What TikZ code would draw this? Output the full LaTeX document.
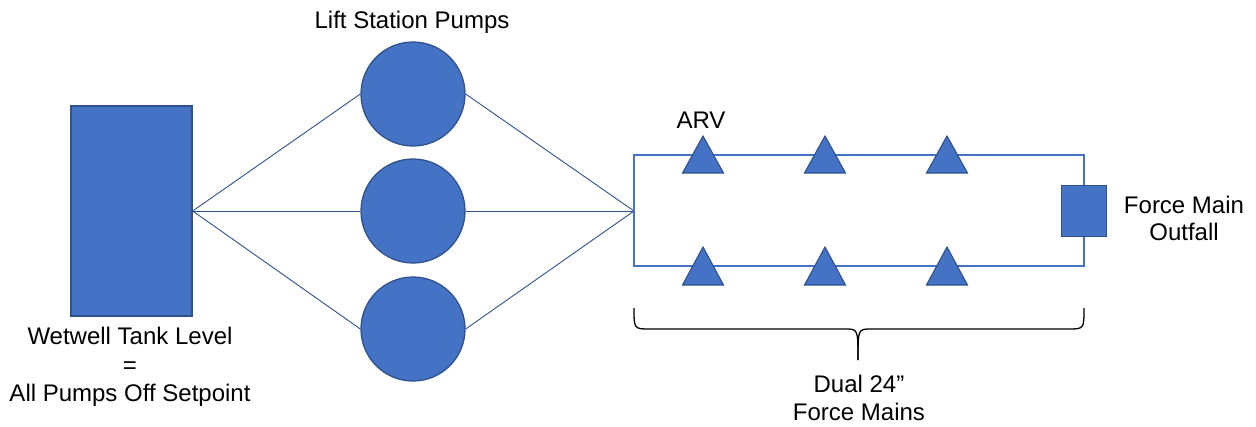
\documentclass[tikz,border=0pt]{standalone}
\usepackage{fontspec}
\setmainfont{Liberation Sans}
\begin{document}
\begin{tikzpicture}[x=1pt,y=-1pt]
\definecolor{fillblue}{HTML}{4472C4}
\definecolor{edgeblue}{HTML}{2F528F}
\tikzset{
  unit/.style={draw=edgeblue,fill=fillblue,line width=1.3pt,inner sep=0pt},
  pump/.style={unit,circle,minimum size=104pt},
  feed/.style={draw=edgeblue,line width=0.9pt},
  mainline/.style={draw=fillblue,line width=1.8pt},
  valve/.style={draw=edgeblue,fill=fillblue,line width=1.1pt,line join=miter},
  label/.style={font=\fontsize{24}{27}\selectfont,align=center,inner sep=0pt,text=black},
  bracket/.style={draw=black,line width=1.3pt}
}
\useasboundingbox (0,0) rectangle (1256,426);

% wetwell and pumps
\node[unit,rectangle,minimum width=121pt,minimum height=210pt] (tank) at (131.5,211) {};
\node[pump] (p1) at (413,94) {};
\node[pump] (p2) at (413,211) {};
\node[pump] (p3) at (413,329) {};
\coordinate (join) at (634,211);

\foreach \p in {p1,p2,p3}{
  \draw[feed] (tank.east) -- (\p.west);
  \draw[feed] (\p.east) -- (join);
}

% dual force main loop
\coordinate (nw) at (634,155);
\coordinate (se) at (1084,266);
\draw[mainline] (nw) rectangle (se);

% air release valves
\foreach \x in {703,825,947}{
  \draw[valve] (\x-20.5,173) -- (\x,136) -- (\x+20.5,173) -- cycle;
  \draw[valve] (\x-20.5,285) -- (\x,247) -- (\x+20.5,285) -- cycle;
}

% outfall
\node[unit,rectangle,minimum width=45pt,minimum height=51pt] (outfall) at (1084,211) {};

% brace under the mains
\coordinate (bl) at (634,308);
\coordinate (br) at (1084,308);
\coordinate (tip) at (858,360);
\draw[bracket] (bl) .. controls (634,329) .. (650,329) -- (845,329)
  .. controls (858,329) .. (tip);
\draw[bracket] (br) .. controls (1084,329) .. (1068,329) -- (871,329)
  .. controls (858,329) .. (tip);

% labels
\node[label,anchor=base] (pumpslbl) at (412,28) {Lift Station Pumps};
\node[label,anchor=base] (arvlbl) at (701,128) {ARV};
\node[label] (outfalllbl) at (1184,218) {Force Main\\Outfall};
\node[label,font=\fontsize{24}{28.5}\selectfont] (mainslbl) at (859,398) {Dual 24”\\Force Mains};
\node[label,font=\fontsize{24}{28.5}\selectfont] (tanklbl) at (130,367) {Wetwell Tank Level\\=\\All Pumps Off Setpoint};
\end{tikzpicture}
\end{document}
